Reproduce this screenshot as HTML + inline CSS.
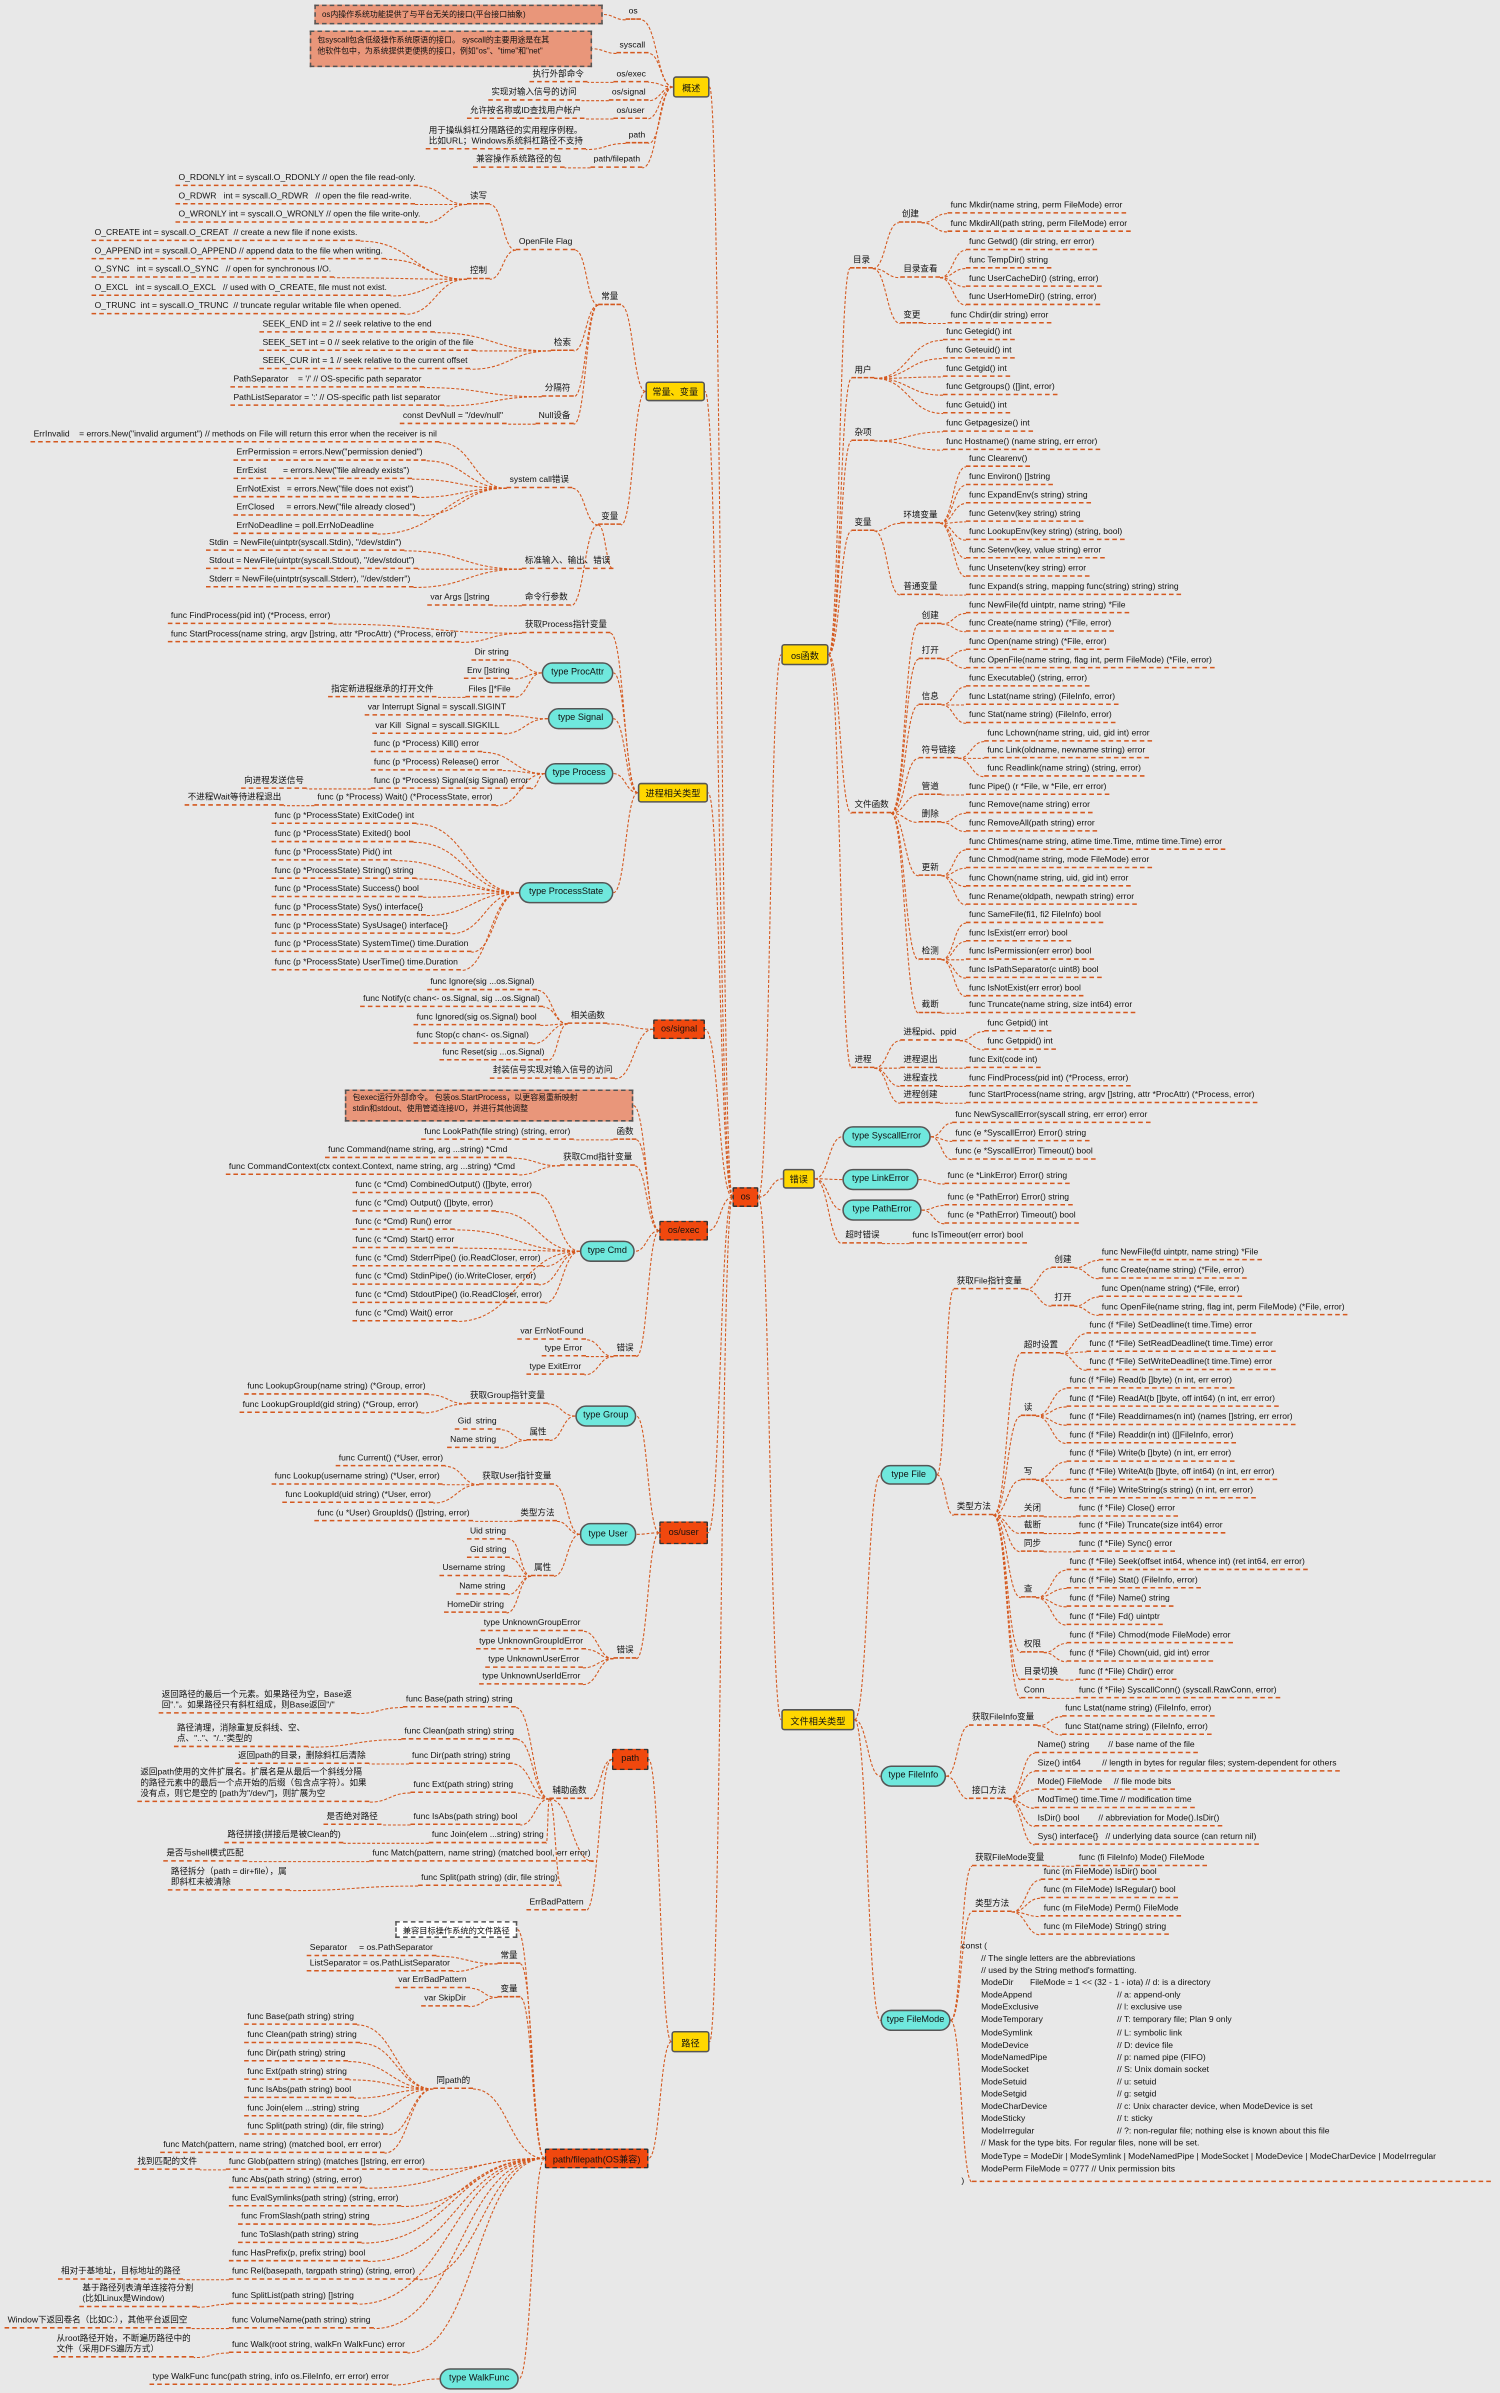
<!DOCTYPE html>
<html><head><meta charset="utf-8">
<style>
html,body{margin:0;padding:0;background:#e8e8e8;}
body{width:1500px;height:2392px;overflow:hidden;}
#m{position:absolute;left:0;top:0;width:983px;height:1568px;transform:scale(1.52594);transform-origin:0 0;font-family:"Liberation Sans","Noto Sans CJK SC",sans-serif;color:#111;}
#m svg{position:absolute;left:0;top:0;}
.t{position:absolute;font-size:5.6px;line-height:7px;white-space:nowrap;border-bottom:0.6px dashed #d4581e;margin-top:-5px;padding:0 2px;}
.t2{margin-top:0;}
.b{position:absolute;font-size:6px;display:flex;align-items:center;justify-content:center;box-sizing:border-box;border:0.7px solid #555;white-space:nowrap;}
.y{background:#ffd700;border-radius:2px;}
.c{background:#6fe8dd;border-radius:7px;}
.r{background:#f0480e;border:0.8px dashed #333;border-radius:1px;}
.s{background:#e9967a;border:0.7px dashed #555;font-size:5.2px;line-height:7px;display:block;padding:2px 4px;white-space:nowrap;overflow:hidden;}
.w{background:#fff;border:0.7px dashed #555;font-size:5.4px;}
.k{position:absolute;font-size:5.6px;line-height:8.1px;white-space:pre;font-family:"Liberation Sans","Noto Sans CJK SC",sans-serif;}
</style></head><body>
<div id="m">
<svg id="sv" width="983" height="1568"></svg>

<!-- center -->
<div class="b r" id="os" style="left:480px;top:778px;width:17px;height:13px">os</div>

<!-- 概述 -->
<div class="b y" id="ov" to="os" style="left:441px;top:50px;width:24px;height:14px">概述</div>
<div class="b s" id="s1" to="l1" style="left:206px;top:3px;width:189px;height:13px;padding-top:2.5px">os内操作系统功能提供了与平台无关的接口(平台接口抽象)</div>
<div class="t" id="l1" to="ov" style="left:410px;top:10px">os</div>
<div class="b s" id="s2" to="l2" style="left:203px;top:20px;width:185px;height:24px;padding-top:3px">包syscall包含低级操作系统原语的接口。 syscall的主要用途是在其<br>他软件包中，为系统提供更便携的接口，例如"os"、"time"和"net"</div>
<div class="t" id="l2" to="ov" style="left:404px;top:32px">syscall</div>
<div class="t" to="l3" style="left:347px;top:51px">执行外部命令</div>
<div class="t" id="l3" to="ov" style="left:402px;top:51px">os/exec</div>
<div class="t" to="l4" style="left:320px;top:63px">实现对输入信号的访问</div>
<div class="t" id="l4" to="ov" style="left:399px;top:63px">os/signal</div>
<div class="t" to="l5" style="left:306px;top:75px">允许按名称或ID查找用户帐户</div>
<div class="t" id="l5" to="ov" style="left:402px;top:75px">os/user</div>
<div class="t t2" to="l6" style="left:279px;top:83px">用于操纵斜杠分隔路径的实用程序例程。<br>比如URL；Windows系统斜杠路径不支持</div>
<div class="t" id="l6" to="ov" style="left:410px;top:91px">path</div>
<div class="t" to="l7" style="left:310px;top:107px">兼容操作系统路径的包</div>
<div class="t" id="l7" to="ov" style="left:387px;top:107px">path/filepath</div>

<!-- 常量、变量 -->
<div class="b y" id="cv" to="os" style="left:423px;top:250px;width:39px;height:13px">常量、变量</div>
<div class="t" id="k1" to="cv" style="left:392px;top:197px">常量</div>
<div class="t" id="of" to="k1" style="left:338px;top:161px">OpenFile Flag</div>
<div class="t" id="rw" to="of" style="left:306px;top:131px">读写</div>
<div class="t" to="rw" style="left:115px;top:119px">O_RDONLY int = syscall.O_RDONLY // open the file read-only.</div>
<div class="t" to="rw" style="left:115px;top:131px">O_RDWR&nbsp;&nbsp; int = syscall.O_RDWR&nbsp;&nbsp; // open the file read-write.</div>
<div class="t" to="rw" style="left:115px;top:143px">O_WRONLY int = syscall.O_WRONLY // open the file write-only.</div>
<div class="t" id="ct" to="of" style="left:306px;top:180px">控制</div>
<div class="t" to="ct" style="left:60px;top:155px">O_CREATE int = syscall.O_CREAT&nbsp; // create a new file if none exists.</div>
<div class="t" to="ct" style="left:60px;top:167px">O_APPEND int = syscall.O_APPEND // append data to the file when writing.</div>
<div class="t" to="ct" style="left:60px;top:179px">O_SYNC&nbsp;&nbsp; int = syscall.O_SYNC&nbsp;&nbsp; // open for synchronous I/O.</div>
<div class="t" to="ct" style="left:60px;top:191px">O_EXCL&nbsp;&nbsp; int = syscall.O_EXCL&nbsp;&nbsp; // used with O_CREATE, file must not exist.</div>
<div class="t" to="ct" style="left:60px;top:203px">O_TRUNC&nbsp; int = syscall.O_TRUNC&nbsp; // truncate regular writable file when opened.</div>
<div class="t" id="js" to="k1" style="left:361px;top:227px">检索</div>
<div class="t" to="js" style="left:170px;top:215px">SEEK_END int = 2 // seek relative to the end</div>
<div class="t" to="js" style="left:170px;top:227px">SEEK_SET int = 0 // seek relative to the origin of the file</div>
<div class="t" to="js" style="left:170px;top:239px">SEEK_CUR int = 1 // seek relative to the current offset</div>
<div class="t" id="fg" to="k1" style="left:355px;top:257px">分隔符</div>
<div class="t" to="fg" style="left:151px;top:251px">PathSeparator&nbsp;&nbsp;&nbsp; = '/' // OS-specific path separator</div>
<div class="t" to="fg" style="left:151px;top:263px">PathListSeparator = ':' // OS-specific path list separator</div>
<div class="t" id="nd" to="k1" style="left:351px;top:275px">Null设备</div>
<div class="t" to="nd" style="left:262px;top:275px">const DevNull = "/dev/null"</div>
<div class="t" id="v1" to="cv" style="left:392px;top:341px">变量</div>
<div class="t" id="sc" to="v1" style="left:332px;top:317px">system call错误</div>
<div class="t" to="sc" style="left:20px;top:287px">ErrInvalid&nbsp;&nbsp;&nbsp; = errors.New("invalid argument") // methods on File will return this error when the receiver is nil</div>
<div class="t" to="sc" style="left:153px;top:299px">ErrPermission = errors.New("permission denied")</div>
<div class="t" to="sc" style="left:153px;top:311px">ErrExist&nbsp;&nbsp;&nbsp;&nbsp;&nbsp;&nbsp; = errors.New("file already exists")</div>
<div class="t" to="sc" style="left:153px;top:323px">ErrNotExist&nbsp;&nbsp; = errors.New("file does not exist")</div>
<div class="t" to="sc" style="left:153px;top:335px">ErrClosed&nbsp;&nbsp;&nbsp;&nbsp; = errors.New("file already closed")</div>
<div class="t" to="sc" style="left:153px;top:347px">ErrNoDeadline = poll.ErrNoDeadline</div>
<div class="t" id="si" to="v1" style="left:342px;top:370px">标准输入、输出、错误</div>
<div class="t" to="si" style="left:135px;top:358px">Stdin&nbsp; = NewFile(uintptr(syscall.Stdin), "/dev/stdin")</div>
<div class="t" to="si" style="left:135px;top:370px">Stdout = NewFile(uintptr(syscall.Stdout), "/dev/stdout")</div>
<div class="t" to="si" style="left:135px;top:382px">Stderr = NewFile(uintptr(syscall.Stderr), "/dev/stderr")</div>
<div class="t" id="cl" to="v1" style="left:342px;top:394px">命令行参数</div>
<div class="t" to="cl" style="left:280px;top:394px">var Args []string</div>

<!-- 进程相关类型 -->
<div class="b y" id="pt" to="os" style="left:418px;top:513px;width:46px;height:13px">进程相关类型</div>
<div class="t" id="gp" to="pt" style="left:342px;top:412px">获取Process指针变量</div>
<div class="t" to="gp" style="left:110px;top:406px">func FindProcess(pid int) (*Process, error)</div>
<div class="t" to="gp" style="left:110px;top:418px">func StartProcess(name string, argv []string, attr *ProcAttr) (*Process, error)</div>
<div class="b c" id="pa" to="pt" style="left:355px;top:434px;width:47px;height:14px">type ProcAttr</div>
<div class="t" to="pa" style="left:309px;top:430px">Dir string</div>
<div class="t" to="pa" style="left:304px;top:442px">Env []string</div>
<div class="t" id="ff" to="pa" style="left:305px;top:454px">Files []*File</div>
<div class="t" to="ff" style="left:215px;top:454px">指定新进程继承的打开文件</div>
<div class="b c" id="sg" to="pt" style="left:359px;top:464px;width:43px;height:14px">type Signal</div>
<div class="t" to="sg" style="left:239px;top:466px">var Interrupt Signal = syscall.SIGINT</div>
<div class="t" to="sg" style="left:244px;top:478px">var Kill&nbsp; Signal = syscall.SIGKILL</div>
<div class="b c" id="pr" to="pt" style="left:357px;top:500px;width:45px;height:14px">type Process</div>
<div class="t" to="pr" style="left:243px;top:490px">func (p *Process) Kill() error</div>
<div class="t" to="pr" style="left:243px;top:502px">func (p *Process) Release() error</div>
<div class="t" id="psg" to="pr" style="left:243px;top:514px">func (p *Process) Signal(sig Signal) error</div>
<div class="t" to="psg" style="left:158px;top:514px">向进程发送信号</div>
<div class="t" id="pw" to="pr" style="left:206px;top:525px">func (p *Process) Wait() (*ProcessState, error)</div>
<div class="t" to="pw" style="left:121px;top:525px">不进程Wait等待进程退出</div>
<div class="b c" id="ps" to="pt" style="left:340px;top:578px;width:62px;height:14px">type ProcessState</div>
<div class="t" to="ps" style="left:178px;top:537px">func (p *ProcessState) ExitCode() int</div>
<div class="t" to="ps" style="left:178px;top:549px">func (p *ProcessState) Exited() bool</div>
<div class="t" to="ps" style="left:178px;top:561px">func (p *ProcessState) Pid() int</div>
<div class="t" to="ps" style="left:178px;top:573px">func (p *ProcessState) String() string</div>
<div class="t" to="ps" style="left:178px;top:585px">func (p *ProcessState) Success() bool</div>
<div class="t" to="ps" style="left:178px;top:597px">func (p *ProcessState) Sys() interface{}</div>
<div class="t" to="ps" style="left:178px;top:609px">func (p *ProcessState) SysUsage() interface{}</div>
<div class="t" to="ps" style="left:178px;top:621px">func (p *ProcessState) SystemTime() time.Duration</div>
<div class="t" to="ps" style="left:178px;top:633px">func (p *ProcessState) UserTime() time.Duration</div>

<!-- os/signal -->
<div class="b r" id="osg" to="os" style="left:428px;top:668px;width:34px;height:13px">os/signal</div>
<div class="t" id="xf" to="osg" style="left:372px;top:668px">相关函数</div>
<div class="t" to="xf" style="left:280px;top:646px">func Ignore(sig ...os.Signal)</div>
<div class="t" to="xf" style="left:236px;top:657px">func Notify(c chan&lt;- os.Signal, sig ...os.Signal)</div>
<div class="t" to="xf" style="left:271px;top:669px">func Ignored(sig os.Signal) bool</div>
<div class="t" to="xf" style="left:271px;top:681px">func Stop(c chan&lt;- os.Signal)</div>
<div class="t" to="xf" style="left:288px;top:692px">func Reset(sig ...os.Signal)</div>
<div class="t" to="osg" style="left:321px;top:704px">封装信号实现对输入信号的访问</div>

<!-- os/exec -->
<div class="b r" id="oe" to="os" style="left:432px;top:800px;width:32px;height:13px">os/exec</div>
<div class="b s" to="oe" style="left:226px;top:714px;width:189px;height:21px;padding-top:2px">包exec运行外部命令。 包装os.StartProcess，以更容易重新映射<br>stdin和stdout、使用管道连接I/O，并进行其他调整</div>
<div class="t" id="lf" to="oe" style="left:402px;top:744px">函数</div>
<div class="t" to="lf" style="left:276px;top:744px">func LookPath(file string) (string, error)</div>
<div class="t" id="gc" to="oe" style="left:367px;top:761px">获取Cmd指针变量</div>
<div class="t" to="gc" style="left:213px;top:756px">func Command(name string, arg ...string) *Cmd</div>
<div class="t" to="gc" style="left:148px;top:767px">func CommandContext(ctx context.Context, name string, arg ...string) *Cmd</div>
<div class="b c" id="cmd" to="oe" style="left:380px;top:813px;width:36px;height:14px">type Cmd</div>
<div class="t" to="cmd" style="left:231px;top:779px">func (c *Cmd) CombinedOutput() ([]byte, error)</div>
<div class="t" to="cmd" style="left:231px;top:791px">func (c *Cmd) Output() ([]byte, error)</div>
<div class="t" to="cmd" style="left:231px;top:803px">func (c *Cmd) Run() error</div>
<div class="t" to="cmd" style="left:231px;top:815px">func (c *Cmd) Start() error</div>
<div class="t" to="cmd" style="left:231px;top:827px">func (c *Cmd) StderrPipe() (io.ReadCloser, error)</div>
<div class="t" to="cmd" style="left:231px;top:839px">func (c *Cmd) StdinPipe() (io.WriteCloser, error)</div>
<div class="t" to="cmd" style="left:231px;top:851px">func (c *Cmd) StdoutPipe() (io.ReadCloser, error)</div>
<div class="t" to="cmd" style="left:231px;top:863px">func (c *Cmd) Wait() error</div>
<div class="t" id="ee" to="oe" style="left:402px;top:886px">错误</div>
<div class="t" to="ee" style="left:339px;top:875px">var ErrNotFound</div>
<div class="t" to="ee" style="left:355px;top:886px">type Error</div>
<div class="t" to="ee" style="left:345px;top:898px">type ExitError</div>

<!-- os/user -->
<div class="b r" id="ou" to="os" style="left:432px;top:997px;width:32px;height:15px">os/user</div>
<div class="b c" id="tg" to="ou" style="left:377px;top:921px;width:40px;height:14px">type Group</div>
<div class="t" id="gg" to="tg" style="left:306px;top:917px">获取Group指针变量</div>
<div class="t" to="gg" style="left:160px;top:911px">func LookupGroup(name string) (*Group, error)</div>
<div class="t" to="gg" style="left:157px;top:923px">func LookupGroupId(gid string) (*Group, error)</div>
<div class="t" id="ga" to="tg" style="left:345px;top:941px">属性</div>
<div class="t" to="ga" style="left:298px;top:934px">Gid&nbsp; string</div>
<div class="t" to="ga" style="left:293px;top:946px">Name string</div>
<div class="b c" id="tu" to="ou" style="left:380px;top:998px;width:37px;height:15px">type User</div>
<div class="t" id="gu" to="tu" style="left:314px;top:970px">获取User指针变量</div>
<div class="t" to="gu" style="left:220px;top:958px">func Current() (*User, error)</div>
<div class="t" to="gu" style="left:178px;top:970px">func Lookup(username string) (*User, error)</div>
<div class="t" to="gu" style="left:185px;top:982px">func LookupId(uid string) (*User, error)</div>
<div class="t" id="um" to="tu" style="left:339px;top:994px">类型方法</div>
<div class="t" to="um" style="left:206px;top:994px">func (u *User) GroupIds() ([]string, error)</div>
<div class="t" id="ua" to="tu" style="left:348px;top:1030px">属性</div>
<div class="t" to="ua" style="left:306px;top:1006px">Uid string</div>
<div class="t" to="ua" style="left:306px;top:1018px">Gid string</div>
<div class="t" to="ua" style="left:288px;top:1030px">Username string</div>
<div class="t" to="ua" style="left:299px;top:1042px">Name string</div>
<div class="t" to="ua" style="left:291px;top:1054px">HomeDir string</div>
<div class="t" id="ue" to="ou" style="left:402px;top:1084px">错误</div>
<div class="t" to="ue" style="left:315px;top:1066px">type UnknownGroupError</div>
<div class="t" to="ue" style="left:312px;top:1078px">type UnknownGroupIdError</div>
<div class="t" to="ue" style="left:318px;top:1090px">type UnknownUserError</div>
<div class="t" to="ue" style="left:314px;top:1101px">type UnknownUserIdError</div>

<!-- 路径 -->
<div class="b y" id="lj" to="os" style="left:440px;top:1331px;width:25px;height:14px">路径</div>
<div class="b r" id="pth" to="lj" style="left:401px;top:1146px;width:24px;height:14px">path</div>
<div class="t" id="hf" to="pth" style="left:360px;top:1176px">辅助函数</div>
<div class="t" id="p1" to="hf" style="left:264px;top:1116px">func Base(path string) string</div>
<div class="t t2" to="p1" style="left:104px;top:1108px">返回路径的最后一个元素。如果路径为空，Base返<br>回"."。如果路径只有斜杠组成，则Base返回"/"</div>
<div class="t" id="p2" to="hf" style="left:263px;top:1137px">func Clean(path string) string</div>
<div class="t t2" to="p2" style="left:114px;top:1130px">路径清理，消除重复反斜线、空、<br>点、".."、"/.."类型的</div>
<div class="t" id="p3" to="hf" style="left:268px;top:1153px">func Dir(path string) string</div>
<div class="t" to="p3" style="left:154px;top:1153px">返回path的目录，删除斜杠后清除</div>
<div class="t" id="p4" to="hf" style="left:269px;top:1172px">func Ext(path string) string</div>
<div class="t t2" to="p4" style="left:90px;top:1159px">返回path使用的文件扩展名。扩展名是从最后一个斜线分隔<br>的路径元素中的最后一个点开始的后缀（包含点字符）。如果<br>没有点，则它是空的 [path为"/dev/"]，则扩展为空</div>
<div class="t" id="p5" to="hf" style="left:269px;top:1193px">func IsAbs(path string) bool</div>
<div class="t" to="p5" style="left:212px;top:1193px">是否绝对路径</div>
<div class="t" id="p6" to="hf" style="left:281px;top:1205px">func Join(elem ...string) string</div>
<div class="t" to="p6" style="left:147px;top:1205px">路径拼接(拼接后是被Clean的)</div>
<div class="t" id="p7" to="hf" style="left:242px;top:1217px">func Match(pattern, name string) (matched bool, err error)</div>
<div class="t" to="p7" style="left:107px;top:1217px">是否与shell模式匹配</div>
<div class="t" id="p8" to="hf" style="left:274px;top:1233px">func Split(path string) (dir, file string)</div>
<div class="t t2" to="p8" style="left:110px;top:1224px">路径拆分（path = dir+file），属<br>即斜杠未被清除</div>
<div class="t" to="pth" style="left:345px;top:1249px">ErrBadPattern</div>

<div class="b r" id="fp" to="lj" style="left:357px;top:1408px;width:68px;height:13px">path/filepath(OS兼容)</div>
<div class="b w" to="fp" style="left:259px;top:1259px;width:80px;height:11px">兼容目标操作系统的文件路径</div>
<div class="t" id="fk" to="fp" style="left:326px;top:1284px">常量</div>
<div class="t" to="fk" style="left:201px;top:1279px">Separator&nbsp;&nbsp;&nbsp;&nbsp; = os.PathSeparator</div>
<div class="t" to="fk" style="left:201px;top:1289px">ListSeparator = os.PathListSeparator</div>
<div class="t" id="fv" to="fp" style="left:326px;top:1306px">变量</div>
<div class="t" to="fv" style="left:259px;top:1300px">var ErrBadPattern</div>
<div class="t" to="fv" style="left:276px;top:1312px">var SkipDir</div>
<div class="t" id="fs" to="fp" style="left:284px;top:1366px">同path的</div>
<div class="t" to="fs" style="left:160px;top:1324px">func Base(path string) string</div>
<div class="t" to="fs" style="left:160px;top:1336px">func Clean(path string) string</div>
<div class="t" to="fs" style="left:160px;top:1348px">func Dir(path string) string</div>
<div class="t" to="fs" style="left:160px;top:1360px">func Ext(path string) string</div>
<div class="t" to="fs" style="left:160px;top:1372px">func IsAbs(path string) bool</div>
<div class="t" to="fs" style="left:160px;top:1384px">func Join(elem ...string) string</div>
<div class="t" to="fs" style="left:160px;top:1396px">func Split(path string) (dir, file string)</div>
<div class="t" to="fs" style="left:105px;top:1408px">func Match(pattern, name string) (matched bool, err error)</div>
<div class="t" id="q1" to="fp" style="left:148px;top:1419px">func Glob(pattern string) (matches []string, err error)</div>
<div class="t" to="q1" style="left:88px;top:1419px">找到匹配的文件</div>
<div class="t" to="fp" style="left:150px;top:1431px">func Abs(path string) (string, error)</div>
<div class="t" to="fp" style="left:150px;top:1443px">func EvalSymlinks(path string) (string, error)</div>
<div class="t" to="fp" style="left:156px;top:1455px">func FromSlash(path string) string</div>
<div class="t" to="fp" style="left:156px;top:1467px">func ToSlash(path string) string</div>
<div class="t" to="fp" style="left:150px;top:1479px">func HasPrefix(p, prefix string) bool</div>
<div class="t" id="q2" to="fp" style="left:150px;top:1491px">func Rel(basepath, targpath string) (string, error)</div>
<div class="t" to="q2" style="left:38px;top:1491px">相对于基地址，目标地址的路径</div>
<div class="t" id="q3" to="fp" style="left:150px;top:1507px">func SplitList(path string) []string</div>
<div class="t t2" to="q3" style="left:52px;top:1497px">基于路径列表清单连接符分割<br>(比如Linux是Window)</div>
<div class="t" id="q4" to="fp" style="left:150px;top:1523px">func VolumeName(path string) string</div>
<div class="t" to="q4" style="left:3px;top:1523px">Window下返回卷名（比如C:），其他平台返回空</div>
<div class="t" id="q5" to="fp" style="left:150px;top:1539px">func Walk(root string, walkFn WalkFunc) error</div>
<div class="t t2" to="q5" style="left:35px;top:1530px">从root路径开始，不断遍历路径中的<br>文件（采用DFS遍历方式）</div>
<div class="b c" id="wf" to="fp" style="left:288px;top:1552px;width:52px;height:14px">type WalkFunc</div>
<div class="t" to="wf" style="left:98px;top:1560px">type WalkFunc func(path string, info os.FileInfo, err error) error</div>

<!-- os函数 -->
<div class="b y" id="of2" to="os" style="left:512px;top:422px;width:31px;height:14px">os函数</div>
<div class="t" id="ml" to="of2" style="left:557px;top:173px">目录</div>
<div class="t" id="m1" to="ml" style="left:589px;top:143px">创建</div>
<div class="t" to="m1" style="left:621px;top:137px">func Mkdir(name string, perm FileMode) error</div>
<div class="t" to="m1" style="left:621px;top:149px">func MkdirAll(path string, perm FileMode) error</div>
<div class="t" id="m2" to="ml" style="left:590px;top:179px">目录查看</div>
<div class="t" to="m2" style="left:633px;top:161px">func Getwd() (dir string, err error)</div>
<div class="t" to="m2" style="left:633px;top:173px">func TempDir() string</div>
<div class="t" to="m2" style="left:633px;top:185px">func UserCacheDir() (string, error)</div>
<div class="t" to="m2" style="left:633px;top:197px">func UserHomeDir() (string, error)</div>
<div class="t" id="m3" to="ml" style="left:590px;top:209px">变更</div>
<div class="t" to="m3" style="left:621px;top:209px">func Chdir(dir string) error</div>
<div class="t" id="us" to="of2" style="left:558px;top:245px">用户</div>
<div class="t" to="us" style="left:618px;top:220px">func Getegid() int</div>
<div class="t" to="us" style="left:618px;top:232px">func Geteuid() int</div>
<div class="t" to="us" style="left:618px;top:244px">func Getgid() int</div>
<div class="t" to="us" style="left:618px;top:256px">func Getgroups() ([]int, error)</div>
<div class="t" to="us" style="left:618px;top:268px">func Getuid() int</div>
<div class="t" id="zx" to="of2" style="left:558px;top:286px">杂项</div>
<div class="t" to="zx" style="left:618px;top:280px">func Getpagesize() int</div>
<div class="t" to="zx" style="left:618px;top:292px">func Hostname() (name string, err error)</div>
<div class="t" id="bl" to="of2" style="left:558px;top:345px">变量</div>
<div class="t" id="hj" to="bl" style="left:590px;top:340px">环境变量</div>
<div class="t" to="hj" style="left:633px;top:303px">func Clearenv()</div>
<div class="t" to="hj" style="left:633px;top:315px">func Environ() []string</div>
<div class="t" to="hj" style="left:633px;top:327px">func ExpandEnv(s string) string</div>
<div class="t" to="hj" style="left:633px;top:339px">func Getenv(key string) string</div>
<div class="t" to="hj" style="left:633px;top:351px">func LookupEnv(key string) (string, bool)</div>
<div class="t" to="hj" style="left:633px;top:363px">func Setenv(key, value string) error</div>
<div class="t" to="hj" style="left:633px;top:375px">func Unsetenv(key string) error</div>
<div class="t" id="pv" to="bl" style="left:590px;top:387px">普通变量</div>
<div class="t" to="pv" style="left:633px;top:387px">func Expand(s string, mapping func(string) string) string</div>
<div class="t" id="fn" to="of2" style="left:558px;top:530px">文件函数</div>
<div class="t" id="f1" to="fn" style="left:602px;top:406px">创建</div>
<div class="t" to="f1" style="left:633px;top:399px">func NewFile(fd uintptr, name string) *File</div>
<div class="t" to="f1" style="left:633px;top:411px">func Create(name string) (*File, error)</div>
<div class="t" id="f2" to="fn" style="left:602px;top:429px">打开</div>
<div class="t" to="f2" style="left:633px;top:423px">func Open(name string) (*File, error)</div>
<div class="t" to="f2" style="left:633px;top:435px">func OpenFile(name string, flag int, perm FileMode) (*File, error)</div>
<div class="t" id="f3" to="fn" style="left:602px;top:459px">信息</div>
<div class="t" to="f3" style="left:633px;top:447px">func Executable() (string, error)</div>
<div class="t" to="f3" style="left:633px;top:459px">func Lstat(name string) (FileInfo, error)</div>
<div class="t" to="f3" style="left:633px;top:471px">func Stat(name string) (FileInfo, error)</div>
<div class="t" id="f4" to="fn" style="left:602px;top:494px">符号链接</div>
<div class="t" to="f4" style="left:645px;top:483px">func Lchown(name string, uid, gid int) error</div>
<div class="t" to="f4" style="left:645px;top:494px">func Link(oldname, newname string) error</div>
<div class="t" to="f4" style="left:645px;top:506px">func Readlink(name string) (string, error)</div>
<div class="t" id="f5" to="fn" style="left:602px;top:518px">管道</div>
<div class="t" to="f5" style="left:633px;top:518px">func Pipe() (r *File, w *File, err error)</div>
<div class="t" id="f6" to="fn" style="left:602px;top:536px">删除</div>
<div class="t" to="f6" style="left:633px;top:530px">func Remove(name string) error</div>
<div class="t" to="f6" style="left:633px;top:542px">func RemoveAll(path string) error</div>
<div class="t" id="f7" to="fn" style="left:602px;top:571px">更新</div>
<div class="t" to="f7" style="left:633px;top:554px">func Chtimes(name string, atime time.Time, mtime time.Time) error</div>
<div class="t" to="f7" style="left:633px;top:566px">func Chmod(name string, mode FileMode) error</div>
<div class="t" to="f7" style="left:633px;top:578px">func Chown(name string, uid, gid int) error</div>
<div class="t" to="f7" style="left:633px;top:590px">func Rename(oldpath, newpath string) error</div>
<div class="t" id="f8" to="fn" style="left:602px;top:626px">检测</div>
<div class="t" to="f8" style="left:633px;top:602px">func SameFile(fi1, fi2 FileInfo) bool</div>
<div class="t" to="f8" style="left:633px;top:614px">func IsExist(err error) bool</div>
<div class="t" to="f8" style="left:633px;top:626px">func IsPermission(err error) bool</div>
<div class="t" to="f8" style="left:633px;top:638px">func IsPathSeparator(c uint8) bool</div>
<div class="t" to="f8" style="left:633px;top:650px">func IsNotExist(err error) bool</div>
<div class="t" id="f9" to="fn" style="left:602px;top:661px">截断</div>
<div class="t" to="f9" style="left:633px;top:661px">func Truncate(name string, size int64) error</div>
<div class="t" id="jc" to="of2" style="left:558px;top:697px">进程</div>
<div class="t" id="j1" to="jc" style="left:590px;top:679px">进程pid、ppid</div>
<div class="t" to="j1" style="left:645px;top:673px">func Getpid() int</div>
<div class="t" to="j1" style="left:645px;top:685px">func Getppid() int</div>
<div class="t" id="j2" to="jc" style="left:590px;top:697px">进程退出</div>
<div class="t" to="j2" style="left:633px;top:697px">func Exit(code int)</div>
<div class="t" id="j3" to="jc" style="left:590px;top:709px">进程查找</div>
<div class="t" to="j3" style="left:633px;top:709px">func FindProcess(pid int) (*Process, error)</div>
<div class="t" id="j4" to="jc" style="left:590px;top:720px">进程创建</div>
<div class="t" to="j4" style="left:633px;top:720px">func StartProcess(name string, argv []string, attr *ProcAttr) (*Process, error)</div>

<!-- 错误 -->
<div class="b y" id="er" to="os" style="left:513px;top:766px;width:21px;height:13px">错误</div>
<div class="b c" id="e1" to="er" style="left:552px;top:738px;width:58px;height:14px">type SyscallError</div>
<div class="t" to="e1" style="left:624px;top:733px">func NewSyscallError(syscall string, err error) error</div>
<div class="t" to="e1" style="left:624px;top:745px">func (e *SyscallError) Error() string</div>
<div class="t" to="e1" style="left:624px;top:757px">func (e *SyscallError) Timeout() bool</div>
<div class="b c" id="e2" to="er" style="left:552px;top:766px;width:50px;height:14px">type LinkError</div>
<div class="t" to="e2" style="left:619px;top:773px">func (e *LinkError) Error() string</div>
<div class="b c" id="e3" to="er" style="left:552px;top:786px;width:52px;height:14px">type PathError</div>
<div class="t" to="e3" style="left:619px;top:787px">func (e *PathError) Error() string</div>
<div class="t" to="e3" style="left:619px;top:799px">func (e *PathError) Timeout() bool</div>
<div class="t" id="e4" to="er" style="left:552px;top:812px">超时错误</div>
<div class="t" to="e4" style="left:596px;top:812px">func IsTimeout(err error) bool</div>

<!-- 文件相关类型 -->
<div class="b y" id="ft" to="os" style="left:512px;top:1120px;width:48px;height:14px">文件相关类型</div>
<div class="b c" id="tf" to="ft" style="left:577px;top:960px;width:37px;height:13px">type File</div>
<div class="t" id="g1" to="tf" style="left:625px;top:842px">获取File指针变量</div>
<div class="t" id="g2" to="g1" style="left:689px;top:828px">创建</div>
<div class="t" to="g2" style="left:720px;top:823px">func NewFile(fd uintptr, name string) *File</div>
<div class="t" to="g2" style="left:720px;top:835px">func Create(name string) (*File, error)</div>
<div class="t" id="g3" to="g1" style="left:689px;top:853px">打开</div>
<div class="t" to="g3" style="left:720px;top:847px">func Open(name string) (*File, error)</div>
<div class="t" to="g3" style="left:720px;top:859px">func OpenFile(name string, flag int, perm FileMode) (*File, error)</div>
<div class="t" id="tm" to="tf" style="left:625px;top:990px">类型方法</div>
<div class="t" id="h1" to="tm" style="left:669px;top:884px">超时设置</div>
<div class="t" to="h1" style="left:712px;top:871px">func (f *File) SetDeadline(t time.Time) error</div>
<div class="t" to="h1" style="left:712px;top:883px">func (f *File) SetReadDeadline(t time.Time) error</div>
<div class="t" to="h1" style="left:712px;top:895px">func (f *File) SetWriteDeadline(t time.Time) error</div>
<div class="t" id="h2" to="tm" style="left:669px;top:925px">读</div>
<div class="t" to="h2" style="left:699px;top:907px">func (f *File) Read(b []byte) (n int, err error)</div>
<div class="t" to="h2" style="left:699px;top:919px">func (f *File) ReadAt(b []byte, off int64) (n int, err error)</div>
<div class="t" to="h2" style="left:699px;top:931px">func (f *File) Readdirnames(n int) (names []string, err error)</div>
<div class="t" to="h2" style="left:699px;top:943px">func (f *File) Readdir(n int) ([]FileInfo, error)</div>
<div class="t" id="h3" to="tm" style="left:669px;top:967px">写</div>
<div class="t" to="h3" style="left:699px;top:955px">func (f *File) Write(b []byte) (n int, err error)</div>
<div class="t" to="h3" style="left:699px;top:967px">func (f *File) WriteAt(b []byte, off int64) (n int, err error)</div>
<div class="t" to="h3" style="left:699px;top:979px">func (f *File) WriteString(s string) (n int, err error)</div>
<div class="t" id="h4" to="tm" style="left:669px;top:991px">关闭</div>
<div class="t" to="h4" style="left:705px;top:991px">func (f *File) Close() error</div>
<div class="t" id="h5" to="tm" style="left:669px;top:1002px">截断</div>
<div class="t" to="h5" style="left:705px;top:1002px">func (f *File) Truncate(size int64) error</div>
<div class="t" id="h6" to="tm" style="left:669px;top:1014px">同步</div>
<div class="t" to="h6" style="left:705px;top:1014px">func (f *File) Sync() error</div>
<div class="t" id="h7" to="tm" style="left:669px;top:1044px">查</div>
<div class="t" to="h7" style="left:699px;top:1026px">func (f *File) Seek(offset int64, whence int) (ret int64, err error)</div>
<div class="t" to="h7" style="left:699px;top:1038px">func (f *File) Stat() (FileInfo, error)</div>
<div class="t" to="h7" style="left:699px;top:1050px">func (f *File) Name() string</div>
<div class="t" to="h7" style="left:699px;top:1062px">func (f *File) Fd() uintptr</div>
<div class="t" id="h8" to="tm" style="left:669px;top:1080px">权限</div>
<div class="t" to="h8" style="left:699px;top:1074px">func (f *File) Chmod(mode FileMode) error</div>
<div class="t" to="h8" style="left:699px;top:1086px">func (f *File) Chown(uid, gid int) error</div>
<div class="t" id="h9" to="tm" style="left:669px;top:1098px">目录切换</div>
<div class="t" to="h9" style="left:705px;top:1098px">func (f *File) Chdir() error</div>
<div class="t" id="h10" to="tm" style="left:669px;top:1110px">Conn</div>
<div class="t" to="h10" style="left:705px;top:1110px">func (f *File) SyscallConn() (syscall.RawConn, error)</div>

<div class="b c" id="fi" to="ft" style="left:577px;top:1157px;width:43px;height:14px">type FileInfo</div>
<div class="t" id="i1" to="fi" style="left:635px;top:1128px">获取FileInfo变量</div>
<div class="t" to="i1" style="left:696px;top:1122px">func Lstat(name string) (FileInfo, error)</div>
<div class="t" to="i1" style="left:696px;top:1134px">func Stat(name string) (FileInfo, error)</div>
<div class="t" id="i2" to="fi" style="left:635px;top:1176px">接口方法</div>
<div class="t" to="i2" style="left:678px;top:1146px">Name() string&nbsp;&nbsp;&nbsp;&nbsp;&nbsp;&nbsp;&nbsp; // base name of the file</div>
<div class="t" to="i2" style="left:678px;top:1158px">Size() int64&nbsp;&nbsp;&nbsp;&nbsp;&nbsp;&nbsp;&nbsp;&nbsp; // length in bytes for regular files; system-dependent for others</div>
<div class="t" to="i2" style="left:678px;top:1170px">Mode() FileMode&nbsp;&nbsp;&nbsp;&nbsp; // file mode bits</div>
<div class="t" to="i2" style="left:678px;top:1182px">ModTime() time.Time // modification time</div>
<div class="t" to="i2" style="left:678px;top:1194px">IsDir() bool&nbsp;&nbsp;&nbsp;&nbsp;&nbsp;&nbsp;&nbsp; // abbreviation for Mode().IsDir()</div>
<div class="t" to="i2" style="left:678px;top:1206px">Sys() interface{}&nbsp;&nbsp; // underlying data source (can return nil)</div>

<div class="b c" id="fm" to="ft" style="left:577px;top:1317px;width:46px;height:14px">type FileMode</div>
<div class="t" id="n1" to="fm" style="left:637px;top:1220px">获取FileMode变量</div>
<div class="t" to="n1" style="left:705px;top:1220px">func (fi FileInfo) Mode() FileMode</div>
<div class="t" id="n2" to="fm" style="left:637px;top:1250px">类型方法</div>
<div class="t" to="n2" style="left:682px;top:1229px">func (m FileMode) IsDir() bool</div>
<div class="t" to="n2" style="left:682px;top:1241px">func (m FileMode) IsRegular() bool</div>
<div class="t" to="n2" style="left:682px;top:1253px">func (m FileMode) Perm() FileMode</div>
<div class="t" to="n2" style="left:682px;top:1265px">func (m FileMode) String() string</div>
<div class="t" id="n3" to="fm" style="left:637px;top:1432px;width:340px;height:2px;padding:0;"></div>
<div class="k" style="left:630px;top:1272px">const (</div>
<div class="k" style="left:643px;top:1280px">// The single letters are the abbreviations
// used by the String method's formatting.
ModeDir
ModeAppend
ModeExclusive
ModeTemporary
ModeSymlink
ModeDevice
ModeNamedPipe
ModeSocket
ModeSetuid
ModeSetgid
ModeCharDevice
ModeSticky
ModeIrregular
// Mask for the type bits. For regular files, none will be set.
ModeType = ModeDir | ModeSymlink | ModeNamedPipe | ModeSocket | ModeDevice | ModeCharDevice | ModeIrregular
ModePerm FileMode = 0777 // Unix permission bits</div>
<div class="k" style="left:675px;top:1296.2px">FileMode = 1 &lt;&lt; (32 - 1 - iota) // d: is a directory</div>
<div class="k" style="left:732px;top:1304.3px">// a: append-only
// l: exclusive use
// T: temporary file; Plan 9 only
// L: symbolic link
// D: device file
// p: named pipe (FIFO)
// S: Unix domain socket
// u: setuid
// g: setgid
// c: Unix character device, when ModeDevice is set
// t: sticky
// ?: non-regular file; nothing else is known about this file</div>
<div class="k" style="left:630px;top:1426px">)</div>
</div>
<script>
(function(){
var sv=document.getElementById('sv'),ns='http://www.w3.org/2000/svg';
document.querySelectorAll('[to]').forEach(function(c){
 var p=document.getElementById(c.getAttribute('to'));if(!p)return;
 var pb=p.classList.contains('b'),cb=c.classList.contains('b');
 var pl=p.offsetLeft,pt=p.offsetTop,pw=p.offsetWidth,ph=p.offsetHeight;
 var cl=c.offsetLeft,ct=c.offsetTop,cw=c.offsetWidth,ch=c.offsetHeight;
 var left=(cl+cw/2)<(pl+pw/2);
 var px=left?pl:pl+pw,py=pb?pt+ph/2:pt+ph;
 var cx=left?cl+cw:cl,cy=cb?ct+ch/2:ct+ch;
 var dx=(cx-px)/2;
 var e=document.createElementNS(ns,'path');
 e.setAttribute('d','M'+px+' '+py+'C'+(px+dx)+' '+py+' '+(cx-dx)+' '+cy+' '+cx+' '+cy);
 e.setAttribute('fill','none');e.setAttribute('stroke','#d4581e');
 e.setAttribute('stroke-width','0.7');e.setAttribute('stroke-dasharray','2 1.2');
 sv.appendChild(e);
});
})();
</script>
</body></html>
